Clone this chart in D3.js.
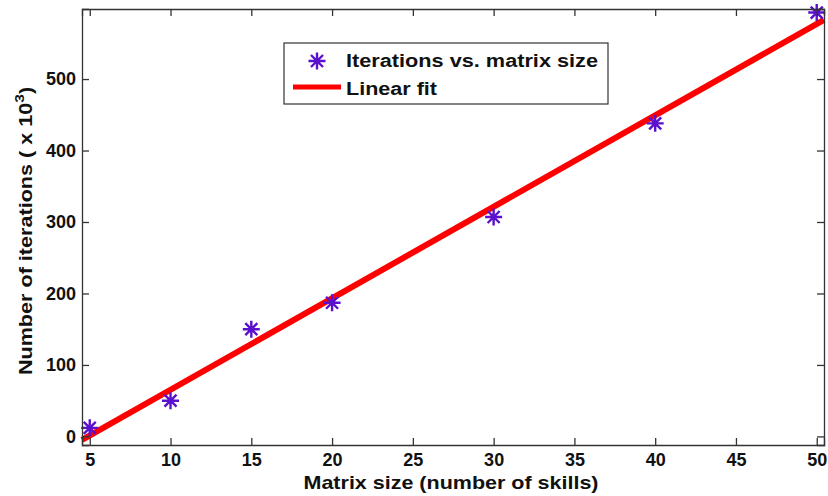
<!DOCTYPE html>
<html>
<head>
<meta charset="utf-8">
<script src="https://cdn.jsdelivr.net/npm/d3@7"></script>
<style>
  body { margin: 0; background: #fff; }
  svg { display: block; font-family: Arial, "Liberation Sans", sans-serif; font-weight: bold; }
</style>
</head>
<body>
<svg id="chart" width="828" height="496"></svg>
<script>
// matrix sizes and iterations (x 10^3)
const sizes = [5, 10, 15, 20, 30, 40, 50];
const iterations = [12, 50, 150, 187, 307, 438, 593];
const xTicks = [5, 10, 15, 20, 25, 30, 35, 40, 45, 50];
const yTicks = [0, 100, 200, 300, 400, 500];

const W = 828, H = 496;
const m = { left: 82, right: 4, top: 9, bottom: 51 };

const svg = d3.select('#chart');

const x = d3.scaleLinear().domain([4.52, 50.45]).range([m.left, W - m.right]);
const y = d3.scaleLinear().domain([-12, 598]).range([H - m.bottom, m.top]);

// least squares fit
const mx = d3.mean(sizes), my = d3.mean(iterations);
const slope = d3.sum(sizes, (v, i) => (v - mx) * (iterations[i] - my)) /
              d3.sum(sizes, v => (v - mx) * (v - mx));
const icpt = my - slope * mx;

const plot = svg.append('g');

// fit line
const fitX = x.domain();
plot.append('line')
  .attr('x1', x(fitX[0])).attr('y1', y(slope * fitX[0] + icpt))
  .attr('x2', x(fitX[1])).attr('y2', y(slope * fitX[1] + icpt))
  .attr('stroke', '#ff0000').attr('stroke-width', 6);

// asterisk marker
function star(g, cx, cy, r) {
  const p = [];
  for (let k = 0; k < 4; k++) {
    const a = k * Math.PI / 4;
    p.push(`M${cx - r * Math.cos(a)},${cy - r * Math.sin(a)}L${cx + r * Math.cos(a)},${cy + r * Math.sin(a)}`);
  }
  g.append('path').attr('d', p.join(''))
    .attr('stroke', '#5a10cc').attr('stroke-width', 2.4).attr('fill', 'none');
}

sizes.forEach((s, i) => star(plot, x(s), y(iterations[i]), 8.5));

// axes box with inward ticks
const tickLen = 7;
const axes = svg.append('g');
const xb = axes.append('g').attr('transform', `translate(0,${H - m.bottom})`)
  .call(d3.axisBottom(x).tickValues(xTicks).tickSize(-tickLen).tickPadding(8));
axes.append('g').attr('transform', `translate(0,${m.top})`)
  .call(d3.axisTop(x).tickValues(xTicks).tickSize(-tickLen).tickFormat(''));
axes.append('g').attr('transform', `translate(${m.left},0)`)
  .call(d3.axisLeft(y).tickValues(yTicks).tickSize(-tickLen).tickPadding(6));
axes.append('g').attr('transform', `translate(${W - m.right},0)`)
  .call(d3.axisRight(y).tickValues(yTicks).tickSize(-tickLen).tickFormat(''));

axes.selectAll('.domain').attr('stroke', '#333').attr('stroke-width', 1.3);
axes.selectAll('.tick line').attr('stroke', '#333').attr('stroke-width', 1.3);
axes.selectAll('.tick text')
  .attr('font-size', 18).attr('font-weight', 'bold').attr('fill', '#111')
  .attr('font-family', 'Arial, "Liberation Sans", sans-serif');

// axis labels
svg.append('text')
  .attr('x', 451).attr('y', 489)
  .attr('text-anchor', 'middle').attr('font-size', 19).attr('fill', '#111')
  .attr('textLength', 295).attr('lengthAdjust', 'spacingAndGlyphs')
  .text('Matrix size (number of skills)');

const yl = svg.append('text')
  .attr('transform', 'translate(32,231) rotate(-90) scale(1.2,1)')
  .attr('text-anchor', 'middle').attr('font-size', 18).attr('fill', '#111');
yl.append('tspan').text('Number of iterations ( x 10');
yl.append('tspan').attr('dy', -8).attr('font-size', 13).text('3');
yl.append('tspan').attr('dy', 8).text(')');

// legend
const lg = svg.append('g');
lg.append('rect')
  .attr('x', 284).attr('y', 43).attr('width', 324).attr('height', 61)
  .attr('fill', '#fff').attr('stroke', '#333').attr('stroke-width', 1.2);
star(lg, 317, 61, 8.5);
lg.append('line').attr('x1', 293).attr('x2', 341).attr('y1', 87).attr('y2', 87)
  .attr('stroke', '#ff0000').attr('stroke-width', 5);
lg.append('text').attr('x', 346).attr('y', 67).attr('font-size', 17.5).attr('fill', '#111')
  .attr('textLength', 252).attr('lengthAdjust', 'spacingAndGlyphs')
  .text('Iterations vs. matrix size');
lg.append('text').attr('x', 346).attr('y', 95).attr('font-size', 17.5).attr('fill', '#111')
  .attr('textLength', 91).attr('lengthAdjust', 'spacingAndGlyphs')
  .text('Linear fit');
</script>
</body>
</html>
